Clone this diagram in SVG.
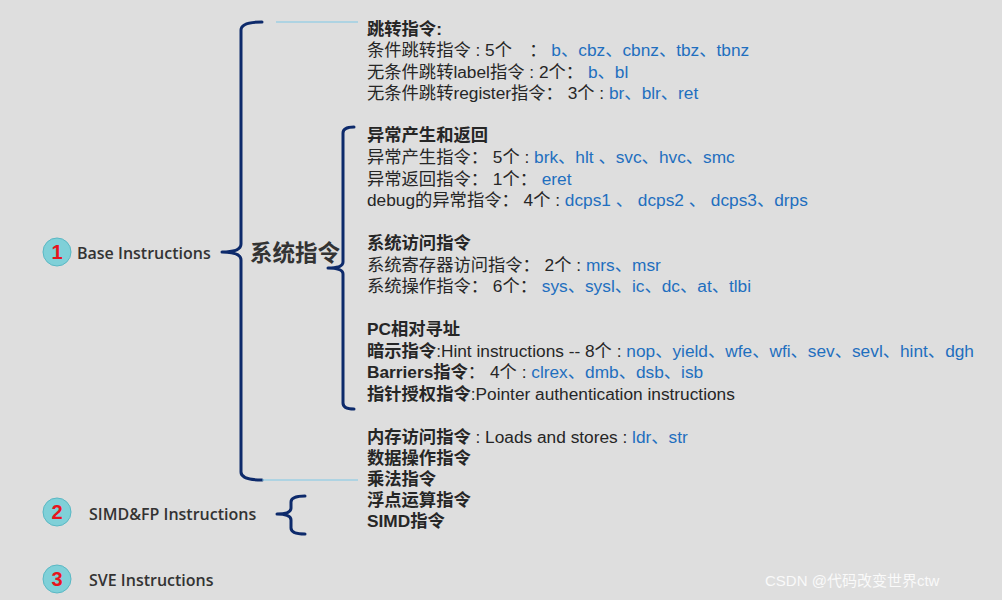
<svg xmlns="http://www.w3.org/2000/svg" width="1002" height="600" viewBox="0 0 1002 600">
<style>
text{font-family:"Liberation Sans","Noto Sans CJK SC",sans-serif;font-size:17.3px;fill:#262626}
.b{font-weight:bold}
.u{fill:#1f6fbf}
.br{fill:none;stroke:#0d2a6b;stroke-width:3;stroke-linejoin:round;stroke-linecap:round}
.thin{stroke:#7fc8e6;stroke-width:1;fill:none}
.c{fill:#7fd0d8;stroke:#5ab8c4;stroke-width:1}
.n{fill:#e8141c;font-weight:bold;font-size:20px;text-anchor:middle}
.lab{font-family:"Open Sans","Noto Sans CJK SC",sans-serif;font-weight:600;font-size:16px;fill:#333}
</style>
<rect width="1002" height="600" fill="#dedede"/>
<g id="connectors">
<path class="br" d="M262,22 Q241,22 241,30 L241,244 Q241,252 222,252 Q241,252 241,260 L241,472 Q241,480 262,480"/>
<path class="thin" d="M276,22 H358 M262,480 H358"/>
<path class="br" d="M354,127 Q343,127 343,133 L343,262 Q343,268 328,268 Q343,268 343,274 L343,403 Q343,409 354,409"/>
<path class="br" d="M305,496 Q291,496 291,502 L291,508 Q291,514 277,514 Q291,514 291,520 L291,528 Q291,534 305,534"/>
</g>
<g id="n1"><circle class="c" cx="57" cy="252" r="14"/><text class="n" x="57" y="259">1</text><text class="lab" x="77" y="259">Base Instructions</text></g>
<g id="n2"><circle class="c" cx="57" cy="512" r="14"/><text class="n" x="57" y="519">2</text><text class="lab" x="89" y="520">SIMD&amp;FP Instructions</text></g>
<g id="n3"><circle class="c" cx="57" cy="579" r="14"/><text class="n" x="57" y="586">3</text><text class="lab" x="89" y="586">SVE Instructions</text></g>
<g id="sys"><text class="b" x="250" y="261" style="font-size:22.5px;fill:#333">系统指令</text></g>
<g id="content">
<text class="b" x="367" y="35">跳转指令:</text>
<text x="367" y="56">条件跳转指令 : 5个　：  <tspan class="u">b、cbz、cbnz、tbz、tbnz</tspan></text>
<text x="367" y="78">无条件跳转label指令 : 2个：  <tspan class="u">b、bl</tspan></text>
<text x="367" y="99">无条件跳转register指令：  3个 : <tspan class="u">br、blr、ret</tspan></text>
<text class="b" x="367" y="141">异常产生和返回</text>
<text x="367" y="163">异常产生指令：  5个 : <tspan class="u">brk、hlt 、svc、hvc、smc</tspan></text>
<text x="367" y="185">异常返回指令：  1个：  <tspan class="u">eret</tspan></text>
<text x="367" y="206">debug的异常指令：  4个 : <tspan class="u">dcps1 、 dcps2 、 dcps3、drps</tspan></text>
<text class="b" x="367" y="249">系统访问指令</text>
<text x="367" y="271">系统寄存器访问指令：  2个 : <tspan class="u">mrs、msr</tspan></text>
<text x="367" y="292">系统操作指令：  6个：  <tspan class="u">sys、sysl、ic、dc、at、tlbi</tspan></text>
<text class="b" x="367" y="335">PC相对寻址</text>
<text x="367" y="357"><tspan class="b">暗示指令</tspan>:Hint instructions -- 8个 : <tspan class="u">nop、yield、wfe、wfi、sev、sevl、hint、dgh</tspan></text>
<text x="367" y="378"><tspan class="b">Barriers指令</tspan>：  4个 : <tspan class="u">clrex、dmb、dsb、isb</tspan></text>
<text x="367" y="400"><tspan class="b">指针授权指令</tspan>:Pointer authentication instructions</text>
<text x="367" y="443"><tspan class="b">内存访问指令</tspan> : Loads and stores : <tspan class="u">ldr、str</tspan></text>
<text class="b" x="367" y="464">数据操作指令</text>
<text class="b" x="367" y="485">乘法指令</text>
<text class="b" x="367" y="506">浮点运算指令</text>
<text class="b" x="367" y="527">SIMD指令</text>
</g>
<text x="765" y="586" style="font-size:15px;fill:#ffffff;opacity:0.85">CSDN @代码改变世界ctw</text>
</svg>
